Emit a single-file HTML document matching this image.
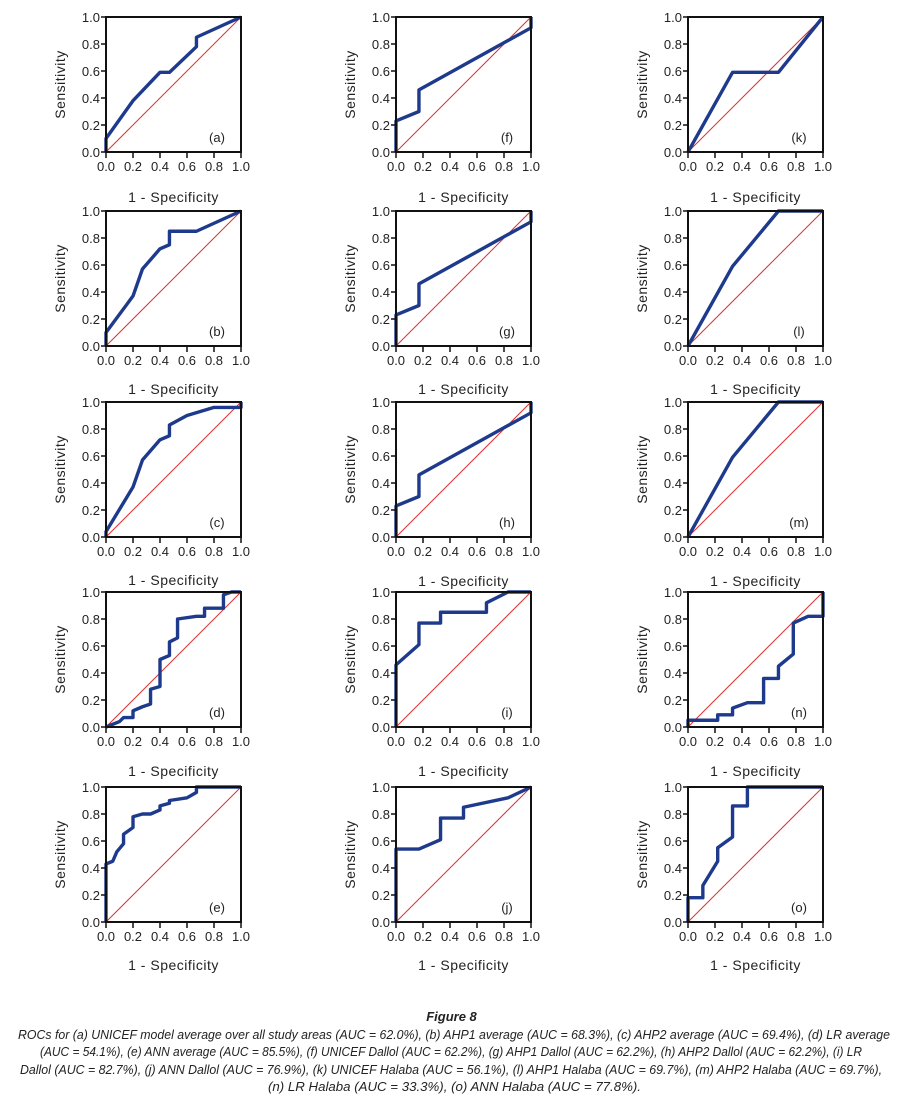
<!DOCTYPE html>
<html><head><meta charset="utf-8"><style>
html,body{margin:0;padding:0;background:#fff;width:903px;height:1100px;overflow:hidden}
svg{display:block}
text{font-family:"Liberation Sans",sans-serif;fill:#222}
.t{font-size:13px}
.ti{font-size:14px;letter-spacing:0.5px}
.cap{font-family:"Liberation Sans Narrow","Liberation Sans",sans-serif;font-style:italic;font-size:13px}
.roc{fill:none;stroke:#1e3a8c;stroke-width:3.4;stroke-linejoin:round;vector-effect:non-scaling-stroke}
.dg{stroke:#e03030;stroke-width:1;vector-effect:non-scaling-stroke}
.fr{fill:none;stroke:#111;stroke-width:2}
.tk{stroke:#111;stroke-width:1.5}
</style></head><body>
<svg width="903" height="1100" viewBox="0 0 903 1100" xmlns="http://www.w3.org/2000/svg">
<defs>
<g id="tk"><path class="tk" d="M-5 0H0M-5 27H0M-5 54H0M-5 81H0M-5 108H0M-5 135H0M0 135V141M27 135V141M54 135V141M81 135V141M108 135V141M135 135V141"/></g>
</defs>

<g transform="translate(106,17)">
<g transform="translate(0,135) scale(135,-135)"><line class="dg" x1="0" y1="0" x2="1" y2="1"/><polyline class="roc" points="0,0 0,0.1 0.2,0.38 0.4,0.59 0.47,0.59 0.67,0.78 0.67,0.85 1,1"/></g>
<rect class="fr" x="0" y="0" width="135" height="135"/><use href="#tk"/>
<text class="t" text-anchor="end"><tspan x="-6" y="5">1.0</tspan><tspan x="-6" y="32">0.8</tspan><tspan x="-6" y="59">0.6</tspan><tspan x="-6" y="86">0.4</tspan><tspan x="-6" y="113">0.2</tspan><tspan x="-6" y="140">0.0</tspan></text>
<text class="t" text-anchor="middle"><tspan x="0" y="154">0.0</tspan><tspan x="27" y="154">0.2</tspan><tspan x="54" y="154">0.4</tspan><tspan x="81" y="154">0.6</tspan><tspan x="108" y="154">0.8</tspan><tspan x="135" y="154">1.0</tspan></text>
<text class="ti" text-anchor="middle" x="67.5" y="185">1 - Specificity</text>
<text class="ti" text-anchor="middle" transform="translate(-41,67.5) rotate(-90)">Sensitivity</text>
<text class="t" text-anchor="middle" x="111" y="125">(a)</text>
</g>

<g transform="translate(106,211)">
<g transform="translate(0,135) scale(135,-135)"><line class="dg" x1="0" y1="0" x2="1" y2="1"/><polyline class="roc" points="0,0 0,0.1 0.2,0.37 0.27,0.57 0.4,0.72 0.47,0.75 0.47,0.85 0.67,0.85 1,1"/></g>
<rect class="fr" x="0" y="0" width="135" height="135"/><use href="#tk"/>
<text class="t" text-anchor="end"><tspan x="-6" y="5">1.0</tspan><tspan x="-6" y="32">0.8</tspan><tspan x="-6" y="59">0.6</tspan><tspan x="-6" y="86">0.4</tspan><tspan x="-6" y="113">0.2</tspan><tspan x="-6" y="140">0.0</tspan></text>
<text class="t" text-anchor="middle"><tspan x="0" y="154">0.0</tspan><tspan x="27" y="154">0.2</tspan><tspan x="54" y="154">0.4</tspan><tspan x="81" y="154">0.6</tspan><tspan x="108" y="154">0.8</tspan><tspan x="135" y="154">1.0</tspan></text>
<text class="ti" text-anchor="middle" x="67.5" y="183">1 - Specificity</text>
<text class="ti" text-anchor="middle" transform="translate(-41,67.5) rotate(-90)">Sensitivity</text>
<text class="t" text-anchor="middle" x="111" y="125">(b)</text>
</g>

<g transform="translate(106,402)">
<g transform="translate(0,135) scale(135,-135)"><line class="dg" x1="0" y1="0" x2="1" y2="1"/><polyline class="roc" points="0,0 0,0.04 0.2,0.37 0.27,0.57 0.4,0.72 0.47,0.75 0.47,0.83 0.6,0.9 0.8,0.96 1,0.96 1,1"/></g>
<rect class="fr" x="0" y="0" width="135" height="135"/><use href="#tk"/>
<text class="t" text-anchor="end"><tspan x="-6" y="5">1.0</tspan><tspan x="-6" y="32">0.8</tspan><tspan x="-6" y="59">0.6</tspan><tspan x="-6" y="86">0.4</tspan><tspan x="-6" y="113">0.2</tspan><tspan x="-6" y="140">0.0</tspan></text>
<text class="t" text-anchor="middle"><tspan x="0" y="154">0.0</tspan><tspan x="27" y="154">0.2</tspan><tspan x="54" y="154">0.4</tspan><tspan x="81" y="154">0.6</tspan><tspan x="108" y="154">0.8</tspan><tspan x="135" y="154">1.0</tspan></text>
<text class="ti" text-anchor="middle" x="67.5" y="183">1 - Specificity</text>
<text class="ti" text-anchor="middle" transform="translate(-41,67.5) rotate(-90)">Sensitivity</text>
<text class="t" text-anchor="middle" x="111" y="125">(c)</text>
</g>

<g transform="translate(106,592)">
<g transform="translate(0,135) scale(135,-135)"><line class="dg" x1="0" y1="0" x2="1" y2="1"/><polyline class="roc" points="0,0 0.1,0.04 0.13,0.07 0.2,0.07 0.2,0.12 0.27,0.15 0.33,0.17 0.33,0.28 0.4,0.3 0.4,0.5 0.47,0.53 0.47,0.63 0.53,0.66 0.53,0.8 0.67,0.82 0.73,0.82 0.73,0.88 0.87,0.88 0.87,0.98 0.93,1 1,1"/></g>
<rect class="fr" x="0" y="0" width="135" height="135"/><use href="#tk"/>
<text class="t" text-anchor="end"><tspan x="-6" y="5">1.0</tspan><tspan x="-6" y="32">0.8</tspan><tspan x="-6" y="59">0.6</tspan><tspan x="-6" y="86">0.4</tspan><tspan x="-6" y="113">0.2</tspan><tspan x="-6" y="140">0.0</tspan></text>
<text class="t" text-anchor="middle"><tspan x="0" y="154">0.0</tspan><tspan x="27" y="154">0.2</tspan><tspan x="54" y="154">0.4</tspan><tspan x="81" y="154">0.6</tspan><tspan x="108" y="154">0.8</tspan><tspan x="135" y="154">1.0</tspan></text>
<text class="ti" text-anchor="middle" x="67.5" y="184">1 - Specificity</text>
<text class="ti" text-anchor="middle" transform="translate(-41,67.5) rotate(-90)">Sensitivity</text>
<text class="t" text-anchor="middle" x="111" y="125">(d)</text>
</g>

<g transform="translate(106,787)">
<g transform="translate(0,135) scale(135,-135)"><line class="dg" x1="0" y1="0" x2="1" y2="1"/><polyline class="roc" points="0,0 0,0.43 0.05,0.45 0.08,0.52 0.13,0.58 0.13,0.65 0.2,0.7 0.2,0.78 0.27,0.8 0.33,0.8 0.4,0.83 0.4,0.86 0.47,0.88 0.47,0.9 0.6,0.92 0.67,0.96 0.67,1 1,1"/></g>
<rect class="fr" x="0" y="0" width="135" height="135"/><use href="#tk"/>
<text class="t" text-anchor="end"><tspan x="-6" y="5">1.0</tspan><tspan x="-6" y="32">0.8</tspan><tspan x="-6" y="59">0.6</tspan><tspan x="-6" y="86">0.4</tspan><tspan x="-6" y="113">0.2</tspan><tspan x="-6" y="140">0.0</tspan></text>
<text class="t" text-anchor="middle"><tspan x="0" y="154">0.0</tspan><tspan x="27" y="154">0.2</tspan><tspan x="54" y="154">0.4</tspan><tspan x="81" y="154">0.6</tspan><tspan x="108" y="154">0.8</tspan><tspan x="135" y="154">1.0</tspan></text>
<text class="ti" text-anchor="middle" x="67.5" y="183">1 - Specificity</text>
<text class="ti" text-anchor="middle" transform="translate(-41,67.5) rotate(-90)">Sensitivity</text>
<text class="t" text-anchor="middle" x="111" y="125">(e)</text>
</g>

<g transform="translate(396,17)">
<g transform="translate(0,135) scale(135,-135)"><line class="dg" x1="0" y1="0" x2="1" y2="1"/><polyline class="roc" points="0,0 0,0.23 0.17,0.3 0.17,0.46 1,0.92 1,1"/></g>
<rect class="fr" x="0" y="0" width="135" height="135"/><use href="#tk"/>
<text class="t" text-anchor="end"><tspan x="-6" y="5">1.0</tspan><tspan x="-6" y="32">0.8</tspan><tspan x="-6" y="59">0.6</tspan><tspan x="-6" y="86">0.4</tspan><tspan x="-6" y="113">0.2</tspan><tspan x="-6" y="140">0.0</tspan></text>
<text class="t" text-anchor="middle"><tspan x="0" y="154">0.0</tspan><tspan x="27" y="154">0.2</tspan><tspan x="54" y="154">0.4</tspan><tspan x="81" y="154">0.6</tspan><tspan x="108" y="154">0.8</tspan><tspan x="135" y="154">1.0</tspan></text>
<text class="ti" text-anchor="middle" x="67.5" y="185">1 - Specificity</text>
<text class="ti" text-anchor="middle" transform="translate(-41,67.5) rotate(-90)">Sensitivity</text>
<text class="t" text-anchor="middle" x="111" y="125">(f)</text>
</g>

<g transform="translate(396,211)">
<g transform="translate(0,135) scale(135,-135)"><line class="dg" x1="0" y1="0" x2="1" y2="1"/><polyline class="roc" points="0,0 0,0.23 0.17,0.3 0.17,0.46 1,0.92 1,1"/></g>
<rect class="fr" x="0" y="0" width="135" height="135"/><use href="#tk"/>
<text class="t" text-anchor="end"><tspan x="-6" y="5">1.0</tspan><tspan x="-6" y="32">0.8</tspan><tspan x="-6" y="59">0.6</tspan><tspan x="-6" y="86">0.4</tspan><tspan x="-6" y="113">0.2</tspan><tspan x="-6" y="140">0.0</tspan></text>
<text class="t" text-anchor="middle"><tspan x="0" y="154">0.0</tspan><tspan x="27" y="154">0.2</tspan><tspan x="54" y="154">0.4</tspan><tspan x="81" y="154">0.6</tspan><tspan x="108" y="154">0.8</tspan><tspan x="135" y="154">1.0</tspan></text>
<text class="ti" text-anchor="middle" x="67.5" y="183">1 - Specificity</text>
<text class="ti" text-anchor="middle" transform="translate(-41,67.5) rotate(-90)">Sensitivity</text>
<text class="t" text-anchor="middle" x="111" y="125">(g)</text>
</g>

<g transform="translate(396,402)">
<g transform="translate(0,135) scale(135,-135)"><line class="dg" x1="0" y1="0" x2="1" y2="1"/><polyline class="roc" points="0,0 0,0.23 0.17,0.3 0.17,0.46 1,0.92 1,1"/></g>
<rect class="fr" x="0" y="0" width="135" height="135"/><use href="#tk"/>
<text class="t" text-anchor="end"><tspan x="-6" y="5">1.0</tspan><tspan x="-6" y="32">0.8</tspan><tspan x="-6" y="59">0.6</tspan><tspan x="-6" y="86">0.4</tspan><tspan x="-6" y="113">0.2</tspan><tspan x="-6" y="140">0.0</tspan></text>
<text class="t" text-anchor="middle"><tspan x="0" y="154">0.0</tspan><tspan x="27" y="154">0.2</tspan><tspan x="54" y="154">0.4</tspan><tspan x="81" y="154">0.6</tspan><tspan x="108" y="154">0.8</tspan><tspan x="135" y="154">1.0</tspan></text>
<text class="ti" text-anchor="middle" x="67.5" y="184">1 - Specificity</text>
<text class="ti" text-anchor="middle" transform="translate(-41,67.5) rotate(-90)">Sensitivity</text>
<text class="t" text-anchor="middle" x="111" y="125">(h)</text>
</g>

<g transform="translate(396,592)">
<g transform="translate(0,135) scale(135,-135)"><line class="dg" x1="0" y1="0" x2="1" y2="1"/><polyline class="roc" points="0,0 0,0.46 0.17,0.61 0.17,0.77 0.33,0.77 0.33,0.85 0.67,0.85 0.67,0.92 0.83,1 1,1"/></g>
<rect class="fr" x="0" y="0" width="135" height="135"/><use href="#tk"/>
<text class="t" text-anchor="end"><tspan x="-6" y="5">1.0</tspan><tspan x="-6" y="32">0.8</tspan><tspan x="-6" y="59">0.6</tspan><tspan x="-6" y="86">0.4</tspan><tspan x="-6" y="113">0.2</tspan><tspan x="-6" y="140">0.0</tspan></text>
<text class="t" text-anchor="middle"><tspan x="0" y="154">0.0</tspan><tspan x="27" y="154">0.2</tspan><tspan x="54" y="154">0.4</tspan><tspan x="81" y="154">0.6</tspan><tspan x="108" y="154">0.8</tspan><tspan x="135" y="154">1.0</tspan></text>
<text class="ti" text-anchor="middle" x="67.5" y="184">1 - Specificity</text>
<text class="ti" text-anchor="middle" transform="translate(-41,67.5) rotate(-90)">Sensitivity</text>
<text class="t" text-anchor="middle" x="111" y="125">(i)</text>
</g>

<g transform="translate(396,787)">
<g transform="translate(0,135) scale(135,-135)"><line class="dg" x1="0" y1="0" x2="1" y2="1"/><polyline class="roc" points="0,0 0,0.54 0.17,0.54 0.33,0.61 0.33,0.77 0.5,0.77 0.5,0.85 0.83,0.92 1,1"/></g>
<rect class="fr" x="0" y="0" width="135" height="135"/><use href="#tk"/>
<text class="t" text-anchor="end"><tspan x="-6" y="5">1.0</tspan><tspan x="-6" y="32">0.8</tspan><tspan x="-6" y="59">0.6</tspan><tspan x="-6" y="86">0.4</tspan><tspan x="-6" y="113">0.2</tspan><tspan x="-6" y="140">0.0</tspan></text>
<text class="t" text-anchor="middle"><tspan x="0" y="154">0.0</tspan><tspan x="27" y="154">0.2</tspan><tspan x="54" y="154">0.4</tspan><tspan x="81" y="154">0.6</tspan><tspan x="108" y="154">0.8</tspan><tspan x="135" y="154">1.0</tspan></text>
<text class="ti" text-anchor="middle" x="67.5" y="183">1 - Specificity</text>
<text class="ti" text-anchor="middle" transform="translate(-41,67.5) rotate(-90)">Sensitivity</text>
<text class="t" text-anchor="middle" x="111" y="125">(j)</text>
</g>

<g transform="translate(688,17)">
<g transform="translate(0,135) scale(135,-135)"><line class="dg" x1="0" y1="0" x2="1" y2="1"/><polyline class="roc" points="0,0 0.33,0.59 0.67,0.59 1,1"/></g>
<rect class="fr" x="0" y="0" width="135" height="135"/><use href="#tk"/>
<text class="t" text-anchor="end"><tspan x="-6" y="5">1.0</tspan><tspan x="-6" y="32">0.8</tspan><tspan x="-6" y="59">0.6</tspan><tspan x="-6" y="86">0.4</tspan><tspan x="-6" y="113">0.2</tspan><tspan x="-6" y="140">0.0</tspan></text>
<text class="t" text-anchor="middle"><tspan x="0" y="154">0.0</tspan><tspan x="27" y="154">0.2</tspan><tspan x="54" y="154">0.4</tspan><tspan x="81" y="154">0.6</tspan><tspan x="108" y="154">0.8</tspan><tspan x="135" y="154">1.0</tspan></text>
<text class="ti" text-anchor="middle" x="67.5" y="185">1 - Specificity</text>
<text class="ti" text-anchor="middle" transform="translate(-41,67.5) rotate(-90)">Sensitivity</text>
<text class="t" text-anchor="middle" x="111" y="125">(k)</text>
</g>

<g transform="translate(688,211)">
<g transform="translate(0,135) scale(135,-135)"><line class="dg" x1="0" y1="0" x2="1" y2="1"/><polyline class="roc" points="0,0 0.33,0.59 0.67,1 1,1"/></g>
<rect class="fr" x="0" y="0" width="135" height="135"/><use href="#tk"/>
<text class="t" text-anchor="end"><tspan x="-6" y="5">1.0</tspan><tspan x="-6" y="32">0.8</tspan><tspan x="-6" y="59">0.6</tspan><tspan x="-6" y="86">0.4</tspan><tspan x="-6" y="113">0.2</tspan><tspan x="-6" y="140">0.0</tspan></text>
<text class="t" text-anchor="middle"><tspan x="0" y="154">0.0</tspan><tspan x="27" y="154">0.2</tspan><tspan x="54" y="154">0.4</tspan><tspan x="81" y="154">0.6</tspan><tspan x="108" y="154">0.8</tspan><tspan x="135" y="154">1.0</tspan></text>
<text class="ti" text-anchor="middle" x="67.5" y="183">1 - Specificity</text>
<text class="ti" text-anchor="middle" transform="translate(-41,67.5) rotate(-90)">Sensitivity</text>
<text class="t" text-anchor="middle" x="111" y="125">(l)</text>
</g>

<g transform="translate(688,402)">
<g transform="translate(0,135) scale(135,-135)"><line class="dg" x1="0" y1="0" x2="1" y2="1"/><polyline class="roc" points="0,0 0.33,0.59 0.67,1 1,1"/></g>
<rect class="fr" x="0" y="0" width="135" height="135"/><use href="#tk"/>
<text class="t" text-anchor="end"><tspan x="-6" y="5">1.0</tspan><tspan x="-6" y="32">0.8</tspan><tspan x="-6" y="59">0.6</tspan><tspan x="-6" y="86">0.4</tspan><tspan x="-6" y="113">0.2</tspan><tspan x="-6" y="140">0.0</tspan></text>
<text class="t" text-anchor="middle"><tspan x="0" y="154">0.0</tspan><tspan x="27" y="154">0.2</tspan><tspan x="54" y="154">0.4</tspan><tspan x="81" y="154">0.6</tspan><tspan x="108" y="154">0.8</tspan><tspan x="135" y="154">1.0</tspan></text>
<text class="ti" text-anchor="middle" x="67.5" y="184">1 - Specificity</text>
<text class="ti" text-anchor="middle" transform="translate(-41,67.5) rotate(-90)">Sensitivity</text>
<text class="t" text-anchor="middle" x="111" y="125">(m)</text>
</g>

<g transform="translate(688,592)">
<g transform="translate(0,135) scale(135,-135)"><line class="dg" x1="0" y1="0" x2="1" y2="1"/><polyline class="roc" points="0,0 0,0.05 0.22,0.05 0.22,0.09 0.33,0.09 0.33,0.14 0.44,0.18 0.56,0.18 0.56,0.36 0.67,0.36 0.67,0.45 0.78,0.54 0.78,0.77 0.89,0.82 1,0.82 1,1"/></g>
<rect class="fr" x="0" y="0" width="135" height="135"/><use href="#tk"/>
<text class="t" text-anchor="end"><tspan x="-6" y="5">1.0</tspan><tspan x="-6" y="32">0.8</tspan><tspan x="-6" y="59">0.6</tspan><tspan x="-6" y="86">0.4</tspan><tspan x="-6" y="113">0.2</tspan><tspan x="-6" y="140">0.0</tspan></text>
<text class="t" text-anchor="middle"><tspan x="0" y="154">0.0</tspan><tspan x="27" y="154">0.2</tspan><tspan x="54" y="154">0.4</tspan><tspan x="81" y="154">0.6</tspan><tspan x="108" y="154">0.8</tspan><tspan x="135" y="154">1.0</tspan></text>
<text class="ti" text-anchor="middle" x="67.5" y="184">1 - Specificity</text>
<text class="ti" text-anchor="middle" transform="translate(-41,67.5) rotate(-90)">Sensitivity</text>
<text class="t" text-anchor="middle" x="111" y="125">(n)</text>
</g>

<g transform="translate(688,787)">
<g transform="translate(0,135) scale(135,-135)"><line class="dg" x1="0" y1="0" x2="1" y2="1"/><polyline class="roc" points="0,0 0,0.18 0.11,0.18 0.11,0.27 0.22,0.45 0.22,0.55 0.33,0.63 0.33,0.86 0.44,0.86 0.44,1 1,1"/></g>
<rect class="fr" x="0" y="0" width="135" height="135"/><use href="#tk"/>
<text class="t" text-anchor="end"><tspan x="-6" y="5">1.0</tspan><tspan x="-6" y="32">0.8</tspan><tspan x="-6" y="59">0.6</tspan><tspan x="-6" y="86">0.4</tspan><tspan x="-6" y="113">0.2</tspan><tspan x="-6" y="140">0.0</tspan></text>
<text class="t" text-anchor="middle"><tspan x="0" y="154">0.0</tspan><tspan x="27" y="154">0.2</tspan><tspan x="54" y="154">0.4</tspan><tspan x="81" y="154">0.6</tspan><tspan x="108" y="154">0.8</tspan><tspan x="135" y="154">1.0</tspan></text>
<text class="ti" text-anchor="middle" x="67.5" y="183">1 - Specificity</text>
<text class="ti" text-anchor="middle" transform="translate(-41,67.5) rotate(-90)">Sensitivity</text>
<text class="t" text-anchor="middle" x="111" y="125">(o)</text>
</g>

<text class="cap" x="451.5" y="1021" text-anchor="middle" style="font-weight:bold;font-size:13px">Figure 8</text>
<text class="cap" x="18" y="1039" textLength="872" lengthAdjust="spacingAndGlyphs">ROCs for (a) UNICEF model average over all study areas (AUC = 62.0%), (b) AHP1 average (AUC = 68.3%), (c) AHP2 average (AUC = 69.4%), (d) LR average</text>
<text class="cap" x="40" y="1056" textLength="822" lengthAdjust="spacingAndGlyphs">(AUC = 54.1%), (e) ANN average (AUC = 85.5%), (f) UNICEF Dallol (AUC = 62.2%), (g) AHP1 Dallol (AUC = 62.2%), (h) AHP2 Dallol (AUC = 62.2%), (i) LR</text>
<text class="cap" x="20" y="1074" textLength="862" lengthAdjust="spacingAndGlyphs">Dallol (AUC = 82.7%), (j) ANN Dallol (AUC = 76.9%), (k) UNICEF Halaba (AUC = 56.1%), (l) AHP1 Halaba (AUC = 69.7%), (m) AHP2 Halaba (AUC = 69.7%),</text>
<text class="cap" x="268" y="1091" textLength="373" lengthAdjust="spacingAndGlyphs">(n) LR Halaba (AUC = 33.3%), (o) ANN Halaba (AUC = 77.8%).</text>
</svg>
</body></html>
